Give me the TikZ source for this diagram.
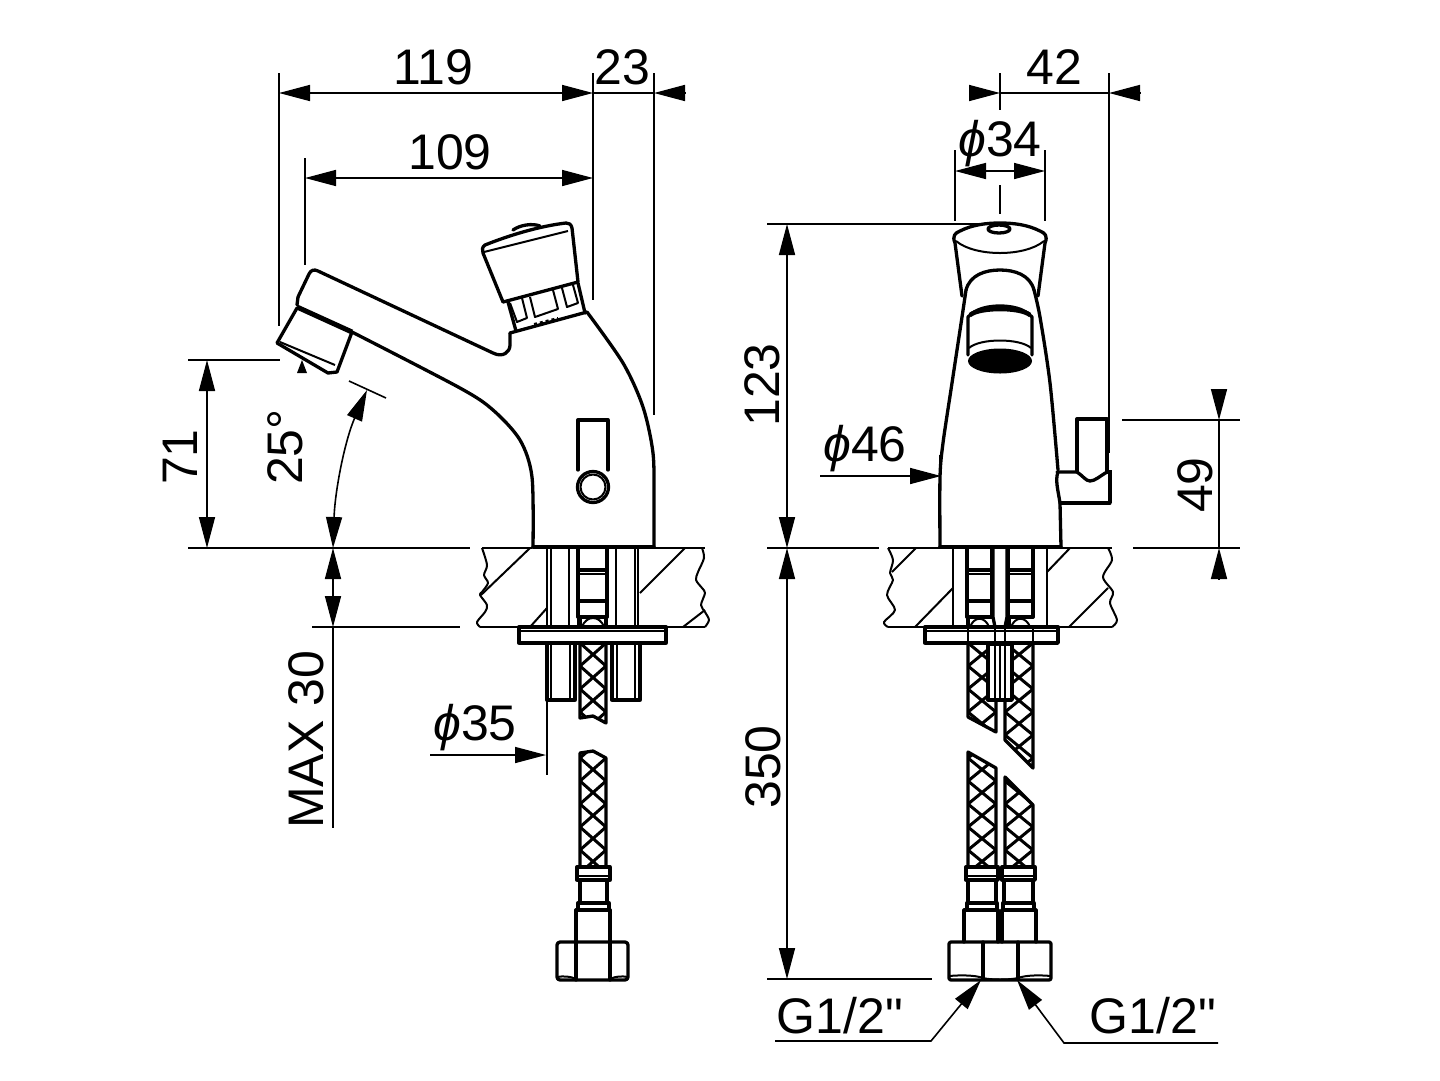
\documentclass[tikz,border=0pt]{standalone}
\usepackage{fontspec}
\newfontfamily\kfont{Liberation Sans}
\usetikzlibrary{arrows.meta}
\tikzset{
kline/.style={line width=3.3pt,line join=round,line cap=round},
kmid/.style={line width=2pt,line join=round},
kthin/.style={line width=1.6pt},
ktip/.tip={Triangle[length=31pt,width=16pt]},
klabel/.style={font=\kfont\fontsize{50}{50}\selectfont,inner sep=0pt},
kvlabel/.style={klabel,rotate=90}
}
\newcommand{\kdia}{{\itshape ϕ}}
% hose with braid: left x, right x, outline
\newcommand{\kbraid}[3]{\begin{scope}\clip #3;
\foreach \ky in {597,620,...,880}{\draw[line width=3pt](#1,\ky)--(#2,\ky+23) (#1,\ky+23)--(#2,\ky);}
\end{scope}\draw[kline] #3;}
\begin{document}
\begin{tikzpicture}[x=1pt,y=-1pt]
\useasboundingbox (0,0) rectangle (1440,1080);
\fill[white](0,0) rectangle (1440,1080);
% extension lines
\foreach \kx/\kya/\kyb in {279/73/326,305/158/265,593/73/300,654/73/415,1000/73/110,1000/185/214,955/150/221,1045/150/221,1109/73/453,547/700/775,940/455/490,333/627/828}{\draw[kthin](\kx,\kya)--(\kx,\kyb);}
\foreach \kxa/\kxb/\ky in {188/280/360,188/470/548,312/460/627,767/985/224,767/879/548,767/932/979,1122/1240/420,1133/1240/548}{\draw[kthin](\kxa,\ky)--(\kxb,\ky);}
\draw[kthin](349,381)--(386,398);
% dimension lines
\foreach \kxa/\kxb/\ky in {279/593/93,305/593/178,955/1045/171}{\draw[kthin,{ktip}-{ktip}](\kxa,\ky)--(\kxb,\ky);}
\foreach \kx/\kya/\kyb in {207/360/548,333/548/627,787/224/548,787/548/979}{\draw[kthin,{ktip}-{ktip}](\kx,\kya)--(\kx,\kyb);}
\draw[kthin](593,93)--(654,93) (1000,93)--(1109,93);
\draw[kthin,{ktip}-](654,93)--(685,93);
\draw[kthin,{ktip}-](1000,93)--(970,93);
\draw[kthin,{ktip}-](1109,93)--(1140,93);
\draw[kthin,{ktip}-](1219,420)--(1219,389);
\draw[kthin,{ktip}-](1219,548)--(1219,579);
\draw[kthin](1219,420)--(1219,548);
\draw[kthin,-{ktip}](820,476)--(941,476);
\draw[kthin,-{ktip}](430,755)--(546,755);
\draw[kthin,{ktip}-{ktip}](333,548) .. controls (335,490) and (345,440) .. (367,390);
\draw[kthin,-{ktip}](775,1041)--(931,1041)--(981,980);
\draw[kthin,-{ktip}](1218,1043)--(1064,1043)--(1017,980);
\fill(302,360)--(307,373)--(297,373)--cycle;
% labels
\node[klabel](a119) at (433,67){119};
\node[klabel](a23) at (622,67){23};
\node[klabel](a109) at (450,152){109};
\node[klabel](a42) at (1054,67){42};
\node[klabel](a34) at (1000,144){\kdia 34};
\node[klabel](a46) at (865,449){\kdia 46};
\node[klabel](a35) at (475,728){\kdia 35};
\node[kvlabel](a71) at (180,457){71};
\node[kvlabel](a25) at (285,447){25°};
\node[kvlabel](amax) at (306,740){MAX 30};
\node[kvlabel](a123) at (762,385){123};
\node[kvlabel](a350) at (763,767){350};
\node[kvlabel](a49) at (1195,485){49};
\node[klabel](ag1) at (840,1016){G1/2"};
\node[klabel](ag2) at (1153,1016){G1/2"};
% side view, body
\draw[kline](510,333)--(587,312);
\draw[kline] plot[smooth] coordinates {(587,312)(623,363)(643,407)(653,453)(654,500)(654,547)};
\draw[kline] plot[smooth] coordinates {(352,332)(460,388)(493,410)(520,440)(532,477)(533,547)};
\draw[kline](298,297)--(309,274) .. controls (311,270) and (314,269) .. (318,271)--(493,353) .. controls (503,358) and (510,352) .. (510,345)--(510,333);
\draw[kline](298,297)--(297,305);
\draw[line width=5pt](297,307)--(352,332);
\draw[kline](297,308)--(277,343)--(328,373)--(337,372)--(352,332);
\draw[kmid](280,342)--(335,365);
% side view, push button
\draw[kline](483,253)--(503,302)--(578,282)--(572,228) .. controls (571,224) and (569,223) .. (566,223) .. controls (540,226) and (510,235) .. (485,245) .. controls (482,247) and (482,250) .. (483,253);
\draw[kmid](484,252)--(568,231);
\draw[kline](513,230) .. controls (520,225) and (532,223) .. (540,226);
\draw[kline](508,302)--(516,331) (578,283)--(585,313);
\draw[kmid](516,331)--(587,312);
\draw[kmid](510,303)--(517,322)--(527,318)--(522,298) (530,297)--(535,317)--(558,309)--(553,290) (562,288)--(567,307)--(578,303)--(573,285);
\draw[dash pattern=on 3pt off 3pt,line width=2pt](534,324)--(558,318);
% side view, handle
\draw[kline](578,470)--(578,420)--(608,420)--(608,470);
\draw[line width=4.5pt](578,420)--(608,420);
\draw[kline,fill=white](593,487) circle (15.5);
\draw[kmid](593,487) circle (12.5);
% side view, wall
\draw[kline](533,547)--(654,547);
\draw[kmid](482,548)--(532,548) (654,548)--(705,548);
\draw[kmid] plot[smooth] coordinates {(482,548)(487,565)(484,575)(488,583)(482,592)(480,595)(487,605)(485,612)(477,622)(480,627)};
\draw[kmid] plot[smooth] coordinates {(702,548)(704,558)(698,572)(696,580)(702,588)(705,593)(701,605)(705,612)(709,620)(705,627)};
\draw[kmid](480,627)--(533,627) (640,627)--(705,627);
\draw[kmid](530,548)--(481,595) (547,608)--(530,627) (685,548)--(640,593) (705,610)--(683,627);
\foreach \kx in {547,551,569,578,607,616,635,638}{\draw[kmid](\kx,548)--(\kx,627);}
% side view, feed pipe and nut
\draw[kline](578,548)--(578,617) (607,548)--(607,617);
\draw[kline](578,570)--(607,570) (578,601)--(607,601) (578,617)--(607,617);
\draw[kmid](578,574)--(607,574);
\draw[kmid](582,627) .. controls (586,615) and (600,615) .. (604,627);
\draw[kline](580,627)--(580,617) (606,627)--(606,617);
\draw[kline,fill=white](519,627) rectangle (666,643);
\draw[kmid](519,631)--(666,631);
\draw[kline](547,643)--(547,700)--(575,700)--(575,643) (612,643)--(612,700)--(640,700)--(640,643);
\draw[kmid](551,643)--(551,700) (570,643)--(570,700) (617,643)--(617,700) (635,643)--(635,700);
\kbraid{580}{606}{(580,643)--(580,718)--(593,716)--(606,723)--(606,643)--cycle}
\kbraid{580}{606}{(580,867)--(580,753)--(593,751)--(606,758)--(606,867)--cycle}
\draw[kline,fill=white](577,867) rectangle (610,880);
\draw[kmid](577,876)--(610,876);
\draw[kline](580,880)--(580,903) (607,880)--(607,903);
\draw[kline,fill=white](578,903) rectangle (609,910);
\draw[kline](576,910)--(610,910);
\draw[kline](576,910)--(576,942) (610,910)--(610,942);
\draw[kline,rounded corners=3pt](557,942) rectangle (628,980);
\draw[kline](576,942)--(576,980) (610,942)--(610,980);
\draw[kmid](557,977) .. controls (563,976) and (570,976) .. (576,979) (610,979) .. controls (616,976) and (622,976) .. (628,977);
% front view, body
\draw[kline] plot[smooth] coordinates {(940,547)(940,477)(943,443)(952,383)(962,317)(966,290)};
\draw[kline](966,290) .. controls (970,275) and (985,270) .. (1000,270) .. controls (1015,270) and (1030,275) .. (1034,290);
\draw[kline] plot[smooth] coordinates {(1034,290)(1040,317)(1050,383)(1058,470)};
\draw[kline](1058,472) .. controls (1055,480) and (1058,490) .. (1060,503)--(1061,547)--(940,547);
% front view, push button
\draw[kline](962,296)--(955,243) .. controls (952,236) and (955,233) .. (960,231) .. controls (972,225) and (985,223) .. (1000,223) .. controls (1015,223) and (1028,225) .. (1040,231) .. controls (1045,233) and (1048,236) .. (1045,243)--(1038,296);
\draw[kmid](956,241) .. controls (975,257) and (1025,257) .. (1044,241);
\draw[kline](999,229) ellipse (11 and 4);
% front view, aerator
\draw[kline](968,355)--(968,317) .. controls (976,308) and (990,306) .. (1000,306) .. controls (1010,306) and (1024,308) .. (1032,317)--(1032,355);
\draw[line width=4.5pt](970,315) .. controls (980,307) and (1020,307) .. (1030,315);
\draw[kmid](969,348) .. controls (980,338) and (1020,338) .. (1031,348);
\fill(1000,361) ellipse (32 and 12.5);
% front view, handle
\draw[kline](1077,472)--(1077,419)--(1107,419)--(1107,472);
\draw[line width=4.5pt](1077,419)--(1107,419);
\draw[kline](1057,472)--(1077,472) .. controls (1083,476) and (1086,481) .. (1090,481) .. controls (1095,481) and (1100,476) .. (1107,472);
\draw[line width=4.5pt](1107,472)--(1110,472)--(1110,503);
\draw[kline](1110,503)--(1060,503);
% front view, wall
\draw[kline](940,547)--(1061,547);
\draw[kmid](888,548)--(1112,548);
\draw[kmid] plot[smooth] coordinates {(888,548)(893,560)(890,573)(893,580)(887,595)(895,610)(884,622)(888,627)};
\draw[kmid] plot[smooth] coordinates {(1108,548)(1112,560)(1103,577)(1113,592)(1110,603)(1117,620)(1112,627)};
\draw[kmid](888,627)--(953,627) (1047,627)--(1112,627);
\draw[kmid](916,548)--(892,572) (953,588)--(915,627) (1070,548)--(1047,572) (1108,588)--(1069,627);
\foreach \kx in {953,1047}{\draw[kmid](\kx,548)--(\kx,627);}
% front view, feed pipes
\foreach \kxa/\kxb in {967/992,1008/1033}{\draw[kline](\kxa,548)--(\kxa,617) (\kxb,548)--(\kxb,617);
\draw[kline](\kxa,570)--(\kxb,570) (\kxa,601)--(\kxb,601) (\kxa,617)--(\kxb,617);
\draw[kmid](\kxa,574)--(\kxb,574);
\draw[kmid](\kxa+3,627) .. controls (\kxa+7,616) and (\kxb-7,616) .. (\kxb-3,627);
\draw[kline](\kxa+1,617)--(\kxa+1,627);}
\draw[kline](993,548)--(993,617)--(995,627) (1007,548)--(1007,617)--(1005,627);
\kbraid{968}{996}{(968,643)--(968,717)--(996,732)--(996,643)--cycle}
\kbraid{1005}{1033}{(1005,643)--(1005,740)--(1033,768)--(1033,643)--cycle}
\kbraid{968}{996}{(968,867)--(968,752)--(996,768)--(996,867)--cycle}
\kbraid{1005}{1033}{(1005,867)--(1005,777)--(1033,805)--(1033,867)--cycle}
\draw[kline,fill=white](925,627) rectangle (1058,643);
\draw[kmid](925,631)--(1058,631);
\draw[kmid](968,627)--(968,643) (995,627)--(995,643) (1005,627)--(1005,643) (1033,627)--(1033,643);
\draw[kline,fill=white](988,644) rectangle (1012,700);
\draw[kmid](995,644)--(995,700) (1000,644)--(1000,700) (1005,644)--(1005,700);
% front view, couplings and nut
\foreach \kxa/\kxb/\kxc/\kxd in {966/998/964/998,1002/1035/1002/1036}{\draw[kline,fill=white](\kxa,867) rectangle (\kxb,880);
\draw[kmid](\kxa,876)--(\kxb,876);
\draw[kline](\kxa+2,880)--(\kxa+2,903) (\kxb-2,880)--(\kxb-2,903);
\draw[kline,fill=white](\kxa+1,903) rectangle (\kxb-1,910);
\draw[kline](\kxc,910)--(\kxd,910) (\kxc,910)--(\kxc,942) (\kxd,910)--(\kxd,942);}
\draw[kline,rounded corners=2pt](949,942) rectangle (1051,980);
\draw[kline](983,942)--(983,979) (1018,942)--(1018,979);
\draw[kmid](949,976) .. controls (960,975) and (975,975) .. (983,978) .. controls (990,980) and (1010,980) .. (1018,978) .. controls (1026,975) and (1040,975) .. (1051,976);
\end{tikzpicture}
\end{document}
